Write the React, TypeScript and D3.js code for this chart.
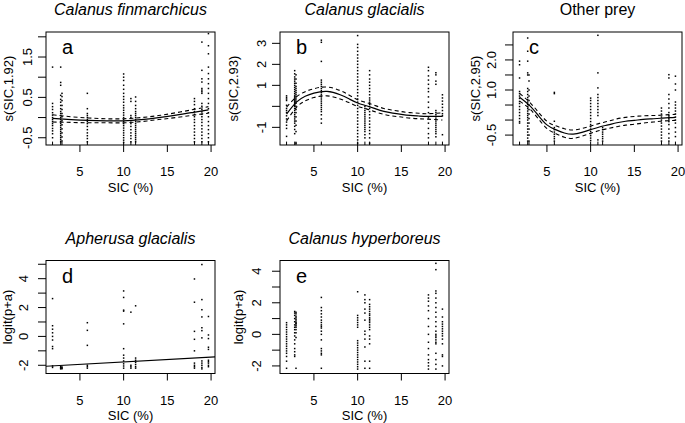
import React from "react";
import * as d3 from "d3";

// SIC (%) values of the sampling stations (columns of points)
const sic = [1.87, 2.8, 2.95, 5.85, 10.0, 10.83, 11.37, 18.1, 18.95, 19.7];

const titles = ["Calanus finmarchicus", "Calanus glacialis", "Other prey", "Apherusa glacialis", "Calanus hyperboreus"];
const titleItalic = [true, true, false, true, true];
const letters = ["a", "b", "c", "d", "e"];
const yLabels = ["s(SIC,1.92)", "s(SIC,2.93)", "s(SIC,2.95)", "logit(p+a)", "logit(p+a)"];
const xLabel = "SIC (%)";
const xTicks = [5, 10, 15, 20];

// y ticks and their printed labels ("" = tick without label)
const aTicks = [-0.5, 0, 0.5, 1, 1.5, 2];
const aTickLabels = ["-0.5", "", "0.5", "", "1.5", ""];
const bTicks = [-1, 0, 1, 2, 3];
const bTickLabels = ["-1", "", "1", "2", "3"];
const cTicks = [-0.5, 0, 0.5, 1, 1.5, 2, 2.5];
const cTickLabels = ["-0.5", "", "", "1.0", "", "2.0", ""];
const dTicks = [-2, -1, 0, 1, 2, 3, 4, 5];
const dTickLabels = ["-2", "", "0", "", "2", "", "4", ""];
const eTicks = [-2, -1, 0, 1, 2, 3, 4];
const eTickLabels = ["-2", "", "0", "", "2", "", "4"];

// partial residuals / observations per SIC column (aligned with sic)
const aPts = [
  [1.25, 0.35, 0.27, 0.2, 0.12, 0.06, 0.0, -0.05, -0.1, -0.15, -0.2, -0.27, -0.33, -0.4, -0.5],
  [1.25, 0.87, 0.8, 0.55, 0.45, 0.38, 0.3, 0.22, 0.15, 0.1, 0.05, 0.0, -0.05, -0.1, -0.15, -0.2, -0.25, -0.3, -0.35, -0.4, -0.45, -0.5, -0.55, -0.6],
  [0.6, 0.52, 0.42, 0.3, 0.2, 0.1, 0.02, -0.08, -0.18, -0.28, -0.38, -0.48, -0.58],
  [0.6, 0.22, 0.1, 0.05, 0.0, -0.05, -0.1, -0.15, -0.22, -0.3, -0.38, -0.45, -0.52, -0.6],
  [1.08, 1.0, 0.92, 0.8, 0.7, 0.6, 0.52, 0.45, 0.38, 0.3, 0.24, 0.18, 0.12, 0.06, 0.0, -0.05, -0.1, -0.15, -0.2, -0.26, -0.32, -0.38, -0.44, -0.5, -0.56, -0.62],
  [0.47, 0.4, 0.05, 0.0, -0.08, -0.15, -0.22, -0.3, -0.38, -0.45, -0.52, -0.6],
  [0.51, 0.4, 0.3, 0.22, 0.15, 0.1, 0.05, 0.0, -0.05, -0.1, -0.15, -0.2, -0.25, -0.3, -0.35, -0.4, -0.45, -0.5, -0.55, -0.6],
  [0.47, 0.4, 0.32, 0.22, 0.15, 0.08, 0.02, -0.05, -0.12, -0.2, -0.28, -0.36, -0.44, -0.52, -0.6],
  [1.87, 1.17, 0.96, 0.88, 0.72, 0.68, 0.64, 0.6, 0.35, 0.28, 0.2, 0.14, 0.08, 0.02, -0.05, -0.12, -0.2, -0.28, -0.36, -0.44, -0.52, -0.6],
  [2.08, 1.78, 1.58, 1.25, 1.09, 0.96, 0.84, 0.72, 0.6, 0.47, 0.35, 0.22, 0.12, 0.02, -0.1, -0.2, -0.3, -0.4, -0.5, -0.6],
];
const bPts = [
  [0.5, 0.42, 0.35, 0.28, 0.05, -0.1, -0.2, -0.3, -0.45, -0.6, -0.75, -0.9, -1.05, -1.43],
  [1.7, 1.55, 1.4, 1.3, 1.2, 1.1, 1.0, 0.9, 0.8, 0.7, 0.6, 0.5, 0.45, 0.4, 0.35, 0.3, 0.25, 0.2, 0.15, 0.1, 0.05, 0.0, -0.1, -0.2, -0.3, -0.4, -0.5, -0.6, -0.7, -0.8, -0.95, -1.1, -1.3],
  [1.5, 1.3, 1.1, 0.95, 0.85, 0.75, 0.65, 0.55, 0.45, 0.35, 0.25, 0.15, 0.0, -0.15, -0.3, -0.5, -0.7, -0.9, -1.2, -1.75],
  [3.15, 3.05, 2.14, 1.25, 1.15, 1.05, 0.95, 0.85, 0.75, 0.65, 0.55, 0.45, 0.35, 0.25, 0.15, 0.05, -0.05, -0.15, -0.25, -0.4, -0.6, -0.8],
  [3.37, 2.95, 2.8, 2.62, 2.45, 2.3, 2.15, 2.0, 1.85, 1.7, 1.55, 1.4, 1.25, 1.1, 0.95, 0.8, 0.65, 0.5, 0.35, 0.2, 0.05, -0.1, -0.25, -0.4, -0.55, -0.7, -0.85, -1.0, -1.15, -1.3, -1.45, -1.6, -1.75],
  [0.0, -0.1, -0.2, -0.3, -0.4, -0.5, -0.6, -0.7, -0.8, -0.9, -1.0, -1.1, -1.2, -1.35, -1.5],
  [1.7, 1.5, 1.3, 1.15, 1.0, 0.85, 0.7, 0.55, 0.4, 0.3, 0.2, 0.1, 0.0, -0.1, -0.25, -0.4, -0.55, -0.7, -0.85, -1.0, -1.15, -1.3, -1.5, -1.75],
  [1.86, 1.7, 1.45, 1.25, 1.05, 0.85, 0.7, 0.45, 0.2, -0.05, -0.3, -0.55, -0.8, -1.05, -1.3, -1.5],
  [1.6, 1.5, 1.2, 1.05, -0.2, -0.3, -0.4, -0.5, -0.6, -0.7, -0.8, -0.9, -1.0, -1.1, -1.2, -1.3, -1.45],
  [0.55, 0.4, 0.25, 0.1, -0.05, -0.2, -0.35, -0.45, -1.35],
];
const cPts = [
  [1.96, 1.84, 1.4, 0.95, 0.88, 0.8, 0.72, 0.62, 0.55, 0.45, 0.35, 0.25, 0.15, 0.05, -0.05, -0.1],
  [2.73, 2.29, 1.96, 1.57, 1.5, 1.05, 0.95, 0.85, 0.75, 0.68, 0.6, 0.52, 0.45, 0.38, 0.3, 0.22, 0.15, 0.08, 0.0, -0.1, -0.2, -0.3, -0.4, -0.5, -0.6, -0.7],
  [1.5, 1.3, 1.0, 0.8, 0.65, 0.5, 0.35, 0.2, 0.05, -0.1, -0.3, -0.5, -0.7],
  [0.92, 0.88, -0.04, -0.25, -0.32, -0.4, -0.47, -0.55, -0.62, -0.7],
  [0.73, 0.65, 0.55, 0.45, 0.35, 0.25, 0.15, 0.05, -0.05, -0.15, -0.22, -0.3, -0.38, -0.45, -0.52, -0.6, -0.68],
  [2.82, 1.57, 1.07, 0.85, 0.75, 0.65, 0.55, 0.45, 0.35, 0.25, 0.15, -0.66],
  [-0.25, -0.32, -0.4, -0.47, -0.55, -0.62, -0.7],
  [0.4, 0.3, 0.2, 0.1, 0.0, -0.1, -0.2, -0.3, -0.4, -0.5, -0.6, -0.7],
  [1.51, 1.4, 0.85, 0.7, 0.55, 0.4, 0.25, 0.15, 0.1, 0.05, 0.0, -0.05, -0.15, -0.3, -0.45, -0.6, -0.7],
  [1.46, 1.2, 1.0, 0.6, 0.5, 0.4, 0.3, 0.2, 0.1, 0.0, -0.1, -0.25, -0.4, -0.55],
];
const dPts = [
  [2.62, 0.74, 0.5, 0.25, 0.0, -0.25, -0.7, -0.85, -2.05, -2.15],
  [-2.1, -2.15, -2.2, -2.25],
  [-2.12, -2.18, -2.24],
  [0.95, 0.42, -0.62, -2.0, -2.1, -2.2],
  [3.15, 2.7, 1.82, 1.75, 0.87, -0.85, -1.3, -1.5, -1.7, -1.9, -2.05, -2.2],
  [1.68, -2.0, -2.1, -2.2],
  [2.12, -1.5, -1.65, -1.8, -1.95, -2.1, -2.2],
  [3.98, 2.37, 0.35, -0.2, -1.0, -1.85, -2.0, -2.1, -2.2],
  [4.98, 2.55, 1.85, 1.35, 0.6, 0.4, -0.1, -1.7, -1.85, -2.0, -2.15, -2.25],
  [1.38, 0.1, -0.15, -0.75, -0.9, -1.65, -1.75, -1.85, -2.0, -2.1],
];
const ePts = [
  [0.74, 0.6, 0.45, 0.3, 0.15, 0.0, -0.15, -0.3, -0.45, -0.6, -0.75, -0.9, -1.05, -1.2, -1.4, -1.7, -2.15],
  [1.45, 1.35, 1.2, 1.0, 0.8, 0.6, 0.45, 0.3, 0.1, -0.1, -0.35, -0.6, -0.9, -1.1, -1.3, -1.4],
  [1.4, 1.3, 1.15, 1.05, 0.95, 0.85, 0.75, 0.7, 0.65, 0.55, 0.45, 0.3, 0.1, -0.2, -2.15],
  [2.34, 1.7, 1.5, 1.3, 1.1, 0.9, 0.75, 0.6, 0.5, 0.4, 0.2, 0.0, -0.35, -0.9, -1.05, -1.2, -1.3, -2.15],
  [2.7, 1.2, 1.05, 0.9, 0.75, 0.6, 0.45, -0.4, -0.55, -0.7, -0.85, -1.0, -1.15, -1.3, -1.45, -1.6, -1.75, -1.9, -2.05, -2.2],
  [2.5, 2.2, 2.0, 1.6, 1.35, 0.9, 0.2, 0.0, -0.3, -0.8, -1.7, -2.15],
  [2.2, 1.9, 1.75, 1.6, 1.45, 1.3, 1.2, 1.05, 0.95, 0.85, 0.75, 0.6, 0.45, 0.3, -0.1, -0.3, -0.6, -1.7, -2.15],
  [2.5, 2.3, 2.1, 1.8, 1.5, 1.0, 0.5, 0.0, -0.5, -0.9, -1.3, -1.6, -1.8, -2.0, -2.2],
  [4.5, 4.1, 2.75, 2.6, 2.3, 2.0, 1.7, 1.4, 1.1, 0.8, 0.5, 0.2, 0.0, -0.1, -0.2, -0.35, -0.5, -0.6, -1.2, -1.6, -1.9, -2.2],
  [1.6, 1.1, 0.8, 0.65, 0.5, 0.35, 0.2, 0.05, -0.1, -0.3, -0.6, -1.3, -1.4, -2.0],
];

// GAM smooths: x grid, fitted values and CI half-widths (2 se)
const aFitX = [1.87, 4, 6, 8, 10, 12, 14, 16, 18, 19.7];
const aFit = [-0.02, -0.05, -0.07, -0.08, -0.08, -0.05, 0.0, 0.06, 0.13, 0.19];
const aSe = [0.09, 0.07, 0.06, 0.05, 0.05, 0.05, 0.05, 0.06, 0.07, 0.08];
const bFitX = [1.87, 3, 4, 5, 6.5, 8, 9, 10, 11, 12, 13, 14, 15, 16, 17, 18, 19.7];
const bFit = [-0.37, 0.2, 0.48, 0.63, 0.71, 0.55, 0.36, 0.16, 0.03, -0.11, -0.24, -0.32, -0.38, -0.43, -0.46, -0.48, -0.48];
const bSe = [0.33, 0.25, 0.22, 0.21, 0.21, 0.2, 0.18, 0.16, 0.15, 0.15, 0.14, 0.14, 0.13, 0.13, 0.13, 0.13, 0.17];
const cFitX = [1.87, 3, 4, 5, 6, 7, 8, 9, 10, 11, 12, 13, 14, 15, 16, 17, 18, 19, 19.7];
const cFit = [0.76, 0.49, 0.16, -0.16, -0.32, -0.43, -0.47, -0.41, -0.32, -0.23, -0.16, -0.09, -0.04, -0.01, 0.02, 0.04, 0.06, 0.08, 0.09];
const cSe = [0.13, 0.11, 0.11, 0.12, 0.13, 0.14, 0.14, 0.13, 0.12, 0.12, 0.12, 0.13, 0.13, 0.13, 0.12, 0.11, 0.1, 0.1, 0.1];
// Apherusa: fitted straight line (intercept, slope)
const dLine = [-2.11, 0.034];

const xDomain = [1.12, 20.45];
const yDomains = [[-0.68, 2.12], [-1.84, 3.54], [-0.83, 2.93], [-2.57, 5.26], [-2.48, 4.68]];

const colX = [46, 280, 513];
const rowY = [32, 260.5];
const plotW = 169;
const plotH = 113;
const tickLabOff = [14, 14, 17, 18.5, 19];
const yLabOff = [33.5, 42, 33, 34.5, 37];

const FONT = "'Liberation Sans', Arial, Helvetica, sans-serif";

type Panel = {
  ticks: number[];
  labels: string[];
  pts: number[][];
  fit?: { x: number[]; y: number[]; se: number[] };
  line?: number[];
  rug: boolean;
};

const panels: Panel[] = [
  { ticks: aTicks, labels: aTickLabels, pts: aPts, fit: { x: aFitX, y: aFit, se: aSe }, rug: true },
  { ticks: bTicks, labels: bTickLabels, pts: bPts, fit: { x: bFitX, y: bFit, se: bSe }, rug: true },
  { ticks: cTicks, labels: cTickLabels, pts: cPts, fit: { x: cFitX, y: cFit, se: cSe }, rug: true },
  { ticks: dTicks, labels: dTickLabels, pts: dPts, line: dLine, rug: false },
  { ticks: eTicks, labels: eTickLabels, pts: ePts, rug: false },
];

function PanelView({ i }: { i: number }) {
  const p = panels[i];
  const left = colX[i % 3];
  const top = rowY[i < 3 ? 0 : 1];
  const bottom = top + plotH;
  const right = left + plotW;
  const x = d3.scaleLinear().domain(xDomain).range([left, right]);
  const y = d3.scaleLinear().domain(yDomains[i]).range([bottom, top]);
  const line = d3
    .line<[number, number]>()
    .x((d) => x(d[0]))
    .y((d) => y(d[1]))
    .curve(d3.curveNatural);
  const cy = (top + bottom) / 2;
  const ylx = left - yLabOff[i];
  const tlx = left - tickLabOff[i];
  return (
    <g>
      <text
        x={(left + right) / 2}
        y={top - 17}
        textAnchor="middle"
        fontSize={16}
        fontStyle={titleItalic[i] ? "italic" : "normal"}
      >
        {titles[i]}
      </text>
      {/* points */}
      {p.pts.map((col, ci) =>
        col.map((v, k) => (
          <rect key={ci + "-" + k} x={x(sic[ci]) - 0.75} y={y(v) - 0.75} width={1.5} height={1.5} fill="#000" />
        ))
      )}
      {p.rug &&
        sic.map((s, k) => (
          <line key={"r" + k} x1={x(s)} x2={x(s)} y1={bottom} y2={bottom - 3.4} stroke="#000" strokeWidth={1} />
        ))}
      {p.fit && (
        <g fill="none" stroke="#000">
          <path d={line(p.fit.x.map((v, k) => [v, p.fit!.y[k]] as [number, number])) || ""} strokeWidth={1.2} />
          <path
            d={line(p.fit.x.map((v, k) => [v, p.fit!.y[k] + p.fit!.se[k]] as [number, number])) || ""}
            strokeWidth={1.1}
            strokeDasharray="4,3"
          />
          <path
            d={line(p.fit.x.map((v, k) => [v, p.fit!.y[k] - p.fit!.se[k]] as [number, number])) || ""}
            strokeWidth={1.1}
            strokeDasharray="4,3"
          />
        </g>
      )}
      {p.line && (
        <line
          x1={x(xDomain[0])}
          x2={x(xDomain[1])}
          y1={y(p.line[0] + p.line[1] * xDomain[0])}
          y2={y(p.line[0] + p.line[1] * xDomain[1])}
          stroke="#000"
          strokeWidth={1.1}
        />
      )}
      <rect x={left} y={top} width={plotW} height={plotH} fill="none" stroke="#000" strokeWidth={1} />
      <text x={left + 16} y={top + 22} fontSize={20}>
        {letters[i]}
      </text>
      {/* x axis */}
      {xTicks.map((t) => (
        <g key={"x" + t}>
          <line x1={x(t)} x2={x(t)} y1={bottom} y2={bottom + 7} stroke="#000" />
          <text x={x(t)} y={bottom + 31} textAnchor="middle" fontSize={13}>
            {t}
          </text>
        </g>
      ))}
      <text x={(left + right) / 2} y={bottom + 46.5} textAnchor="middle" fontSize={13}>
        {xLabel}
      </text>
      {/* y axis */}
      {p.ticks.map((t, k) => (
        <g key={"y" + k}>
          <line x1={left - 8} x2={left} y1={y(t)} y2={y(t)} stroke="#000" />
          {p.labels[k] && (
            <text transform={`translate(${tlx},${y(t)}) rotate(-90)`} textAnchor="middle" fontSize={13}>
              {p.labels[k]}
            </text>
          )}
        </g>
      ))}
      <text transform={`translate(${ylx},${cy}) rotate(-90)`} textAnchor="middle" fontSize={13}>
        {yLabels[i]}
      </text>
    </g>
  );
}

export default function App() {
  return (
    <svg
      width={685}
      height={423}
      style={{ position: "absolute", left: 0, top: 0, background: "#fff" }}
      fontFamily={FONT}
    >
      <rect width={685} height={423} fill="#fff" />
      {panels.map((_, i) => (
        <PanelView key={i} i={i} />
      ))}
    </svg>
  );
}
